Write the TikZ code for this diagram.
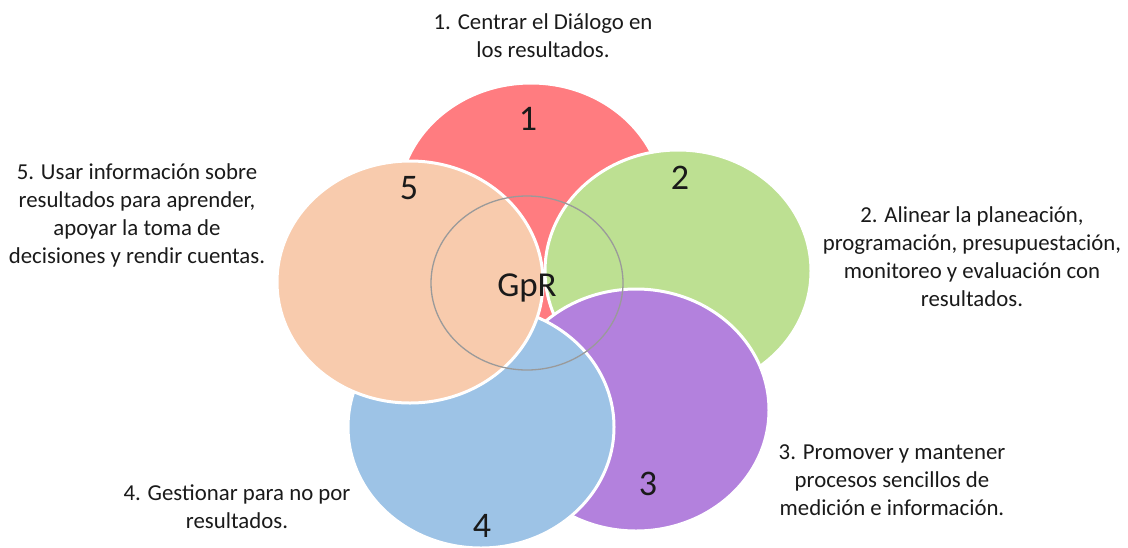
\documentclass[tikz,border=0pt]{standalone}
\usepackage{fontspec}
\setmainfont{Carlito}
\usetikzlibrary{shapes.geometric}
\definecolor{cred}{HTML}{FF7C80}
\definecolor{cgreen}{HTML}{BDE092}
\definecolor{cpurple}{HTML}{B381DD}
\definecolor{cblue}{HTML}{9DC3E6}
\definecolor{corange}{HTML}{F8CBAD}
\definecolor{ctext}{HTML}{1A1A1A}
\definecolor{cring}{HTML}{9A9A9A}
\begin{document}
\begin{tikzpicture}[x=1pt,y=-1pt,
  blob/.style={ellipse, draw=white, line width=3pt, minimum width=266pt, minimum height=242pt, inner sep=0pt},
  num/.style={anchor=base, font=\fontsize{36}{40}\selectfont, text=ctext, inner sep=0pt},
  lbl/.style={anchor=base, align=center, font=\fontsize{22.8}{27.8}\selectfont, text=ctext, inner sep=0pt}]
\useasboundingbox (0,0) rectangle (1128,547);
\fill[white] (0,0) rectangle (1128,547);
% five overlapping ellipses, 1 at the back, 5 on top
\node[blob, fill=cred]    (c1) at (531,204) {};
\node[blob, fill=cgreen]  (c2) at (678,271) {};
\node[blob, fill=cpurple] (c3) at (636,410) {};
\node[blob, fill=cblue]   (c4) at (481,427) {};
\node[blob, fill=corange] (c5) at (410,282) {};
% central ring
\node[ellipse, draw=cring, line width=1.3pt, minimum width=192pt, minimum height=174pt, inner sep=0pt] (ring) at (527,283) {};
\node[anchor=base, font=\fontsize{35}{40}\selectfont, text=ctext, inner sep=0pt] (gpr) at (527,296) {GpR};
% numbers
\node[num] (n1) at (528,130) {1};
\node[num] (n2) at (680,189) {2};
\node[num] (n3) at (648,495) {3};
\node[num] (n4) at (482,537) {4};
\node[num] (n5) at (409,199) {5};
% labels (anchor base = baseline of the last line)
\node[lbl] (l1) at (543,57) {1. Centrar el Diálogo en\\los resultados.};
\node[lbl] (l2) at (972,306) {2. Alinear la planeación,\\programación, presupuestación,\\monitoreo y evaluación con\\resultados.};
\node[lbl] (l3) at (892,515) {3. Promover y mantener\\procesos sencillos de\\medición e información.};
\node[lbl] (l4) at (237,528) {4. Gestionar para no por\\resultados.};
\node[lbl] (l5) at (137,263) {5. Usar información sobre\\resultados para aprender,\\apoyar la toma de\\decisiones y rendir cuentas.};
\end{tikzpicture}
\end{document}
